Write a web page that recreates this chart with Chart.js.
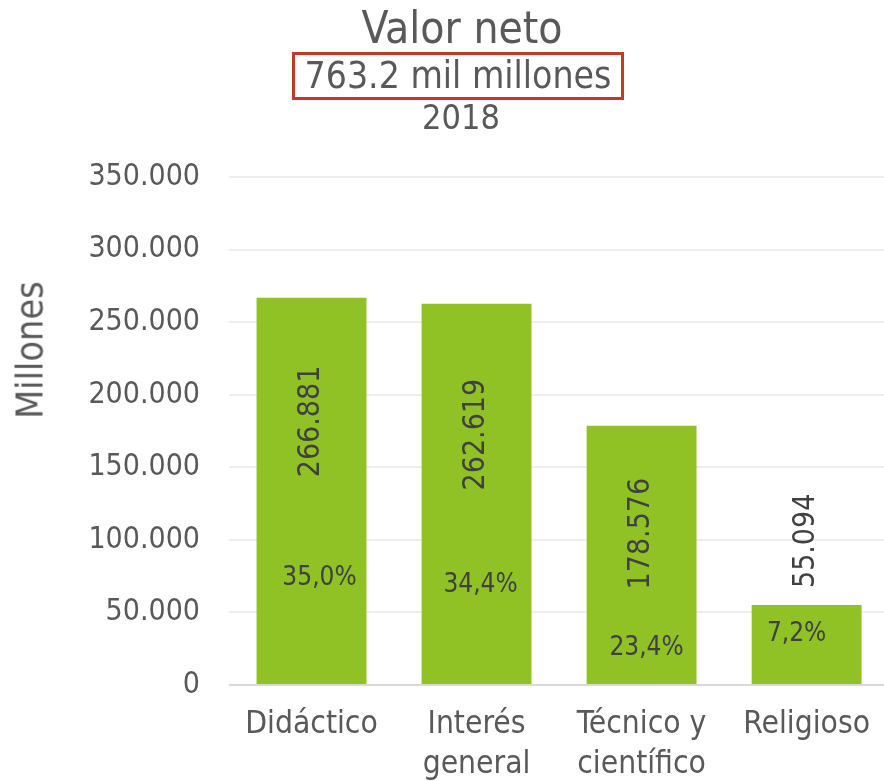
<!DOCTYPE html>
<html>
<head>
<meta charset="utf-8">
<script src="https://cdn.jsdelivr.net/npm/chart.js@4"></script>
<style>
  html, body { margin:0; padding:0; background:#fff; overflow:hidden; width:884px; height:781px; }
  #wrap { position:absolute; left:0; top:0; width:890px; height:781px; }
  canvas { display:block; }
  .t { position:absolute; font-family:"DejaVu Sans Condensed","DejaVu Sans",sans-serif; color:#595959; white-space:nowrap; text-align:center; }
</style>
</head>
<body>
<div id="wrap"><canvas id="c" width="890" height="781"></canvas></div>
<div class="t" style="left:262px;width:400px;top:3px;font-size:44px;line-height:50px;">Valor neto</div>
<div class="t" style="left:292px;top:52px;width:326px;height:42px;border:3px solid #C0392B;font-size:37px;line-height:42px;">763.2 mil millones</div>
<div class="t" style="left:261px;width:400px;top:97px;font-size:34px;line-height:40px;">2018</div>
<div class="t" style="left:30px;top:350px;font-size:37.5px;line-height:37px;transform:translate(-50%,-50%) rotate(-90deg);">Millones</div>
<script>
const categories = [["Didáctico"], ["Interés", "general"], ["Técnico y", "científico"], ["Religioso"]];
const values = [266881, 262619, 178576, 55094];
const percentLabels = ["35,0%", "34,4%", "23,4%", "7,2%"];
const yTicks = [0, 50000, 100000, 150000, 200000, 250000, 300000, 350000];

const FONT = '"DejaVu Sans Condensed", "DejaVu Sans", sans-serif';
const fmt = v => String(v).replace(/\B(?=(\d{3})+(?!\d))/g, '.');

const labelPlugin = {
  id: 'barLabels',
  afterDatasetsDraw(chart, args, opts) {
    const ctx = chart.ctx;
    const meta = chart.getDatasetMeta(0);
    meta.data.forEach((bar, i) => {
      const v = chart.data.datasets[0].data[i];
      ctx.save();
      ctx.fillStyle = '#404040';
      ctx.font = '30px ' + FONT;
      ctx.textBaseline = 'middle';
      const off = opts.valueOffsets[i];
      ctx.translate(bar.x, bar.y + off);
      ctx.rotate(-Math.PI / 2);
      ctx.textAlign = off >= 0 ? 'right' : 'left';
      ctx.fillText(fmt(v), 0, 0);
      ctx.restore();

      ctx.save();
      ctx.fillStyle = '#404040';
      ctx.font = '26px ' + FONT;
      ctx.textAlign = 'center';
      ctx.textBaseline = 'middle';
      ctx.fillText(percentLabels[i], bar.x + opts.pctDx[i], bar.base - opts.pctDy[i]);
      ctx.restore();
    });
  }
};

new Chart(document.getElementById('c'), {
  type: 'bar',
  data: {
    labels: categories,
    datasets: [{
      data: values,
      backgroundColor: '#90C226',
      borderWidth: 0,
      barPercentage: 0.666,
      categoryPercentage: 1.0
    }]
  },
  plugins: [labelPlugin],
  options: {
    responsive: false,
    animation: false,
    layout: { padding: { top: 177, right: 0, bottom: 0, left: 0 } },
    plugins: {
      legend: { display: false },
      tooltip: { enabled: false },
      barLabels: {
        valueOffsets: [68, 75, 52, -17],
        pctDx: [8, 4, 5, -10],
        pctDy: [106, 99, 36, 50]
      }
    },
    scales: {
      x: {
        grid: { display: false, drawTicks: false },
        border: { display: false },
        ticks: {
          color: '#595959',
          font: { family: FONT, size: 31.5, lineHeight: 1.27 },
          padding: 20,
          maxRotation: 0,
          autoSkip: false
        },
        afterFit: s => { s.height = 96; }
      },
      y: {
        min: 0,
        max: 350000,
        afterBuildTicks: s => { s.ticks = yTicks.map(v => ({ value: v })); },
        grid: {
          drawTicks: false,
          lineWidth: 2,
          color: c => c.tick && c.tick.value === 0 ? '#D9D9D9' : '#EEEEEE'
        },
        border: { display: false },
        ticks: {
          color: '#595959',
          font: { family: FONT, size: 30 },
          padding: 29,
          callback: v => fmt(v)
        },
        afterFit: s => { s.width = 229; }
      }
    }
  }
});
</script>
</body>
</html>
